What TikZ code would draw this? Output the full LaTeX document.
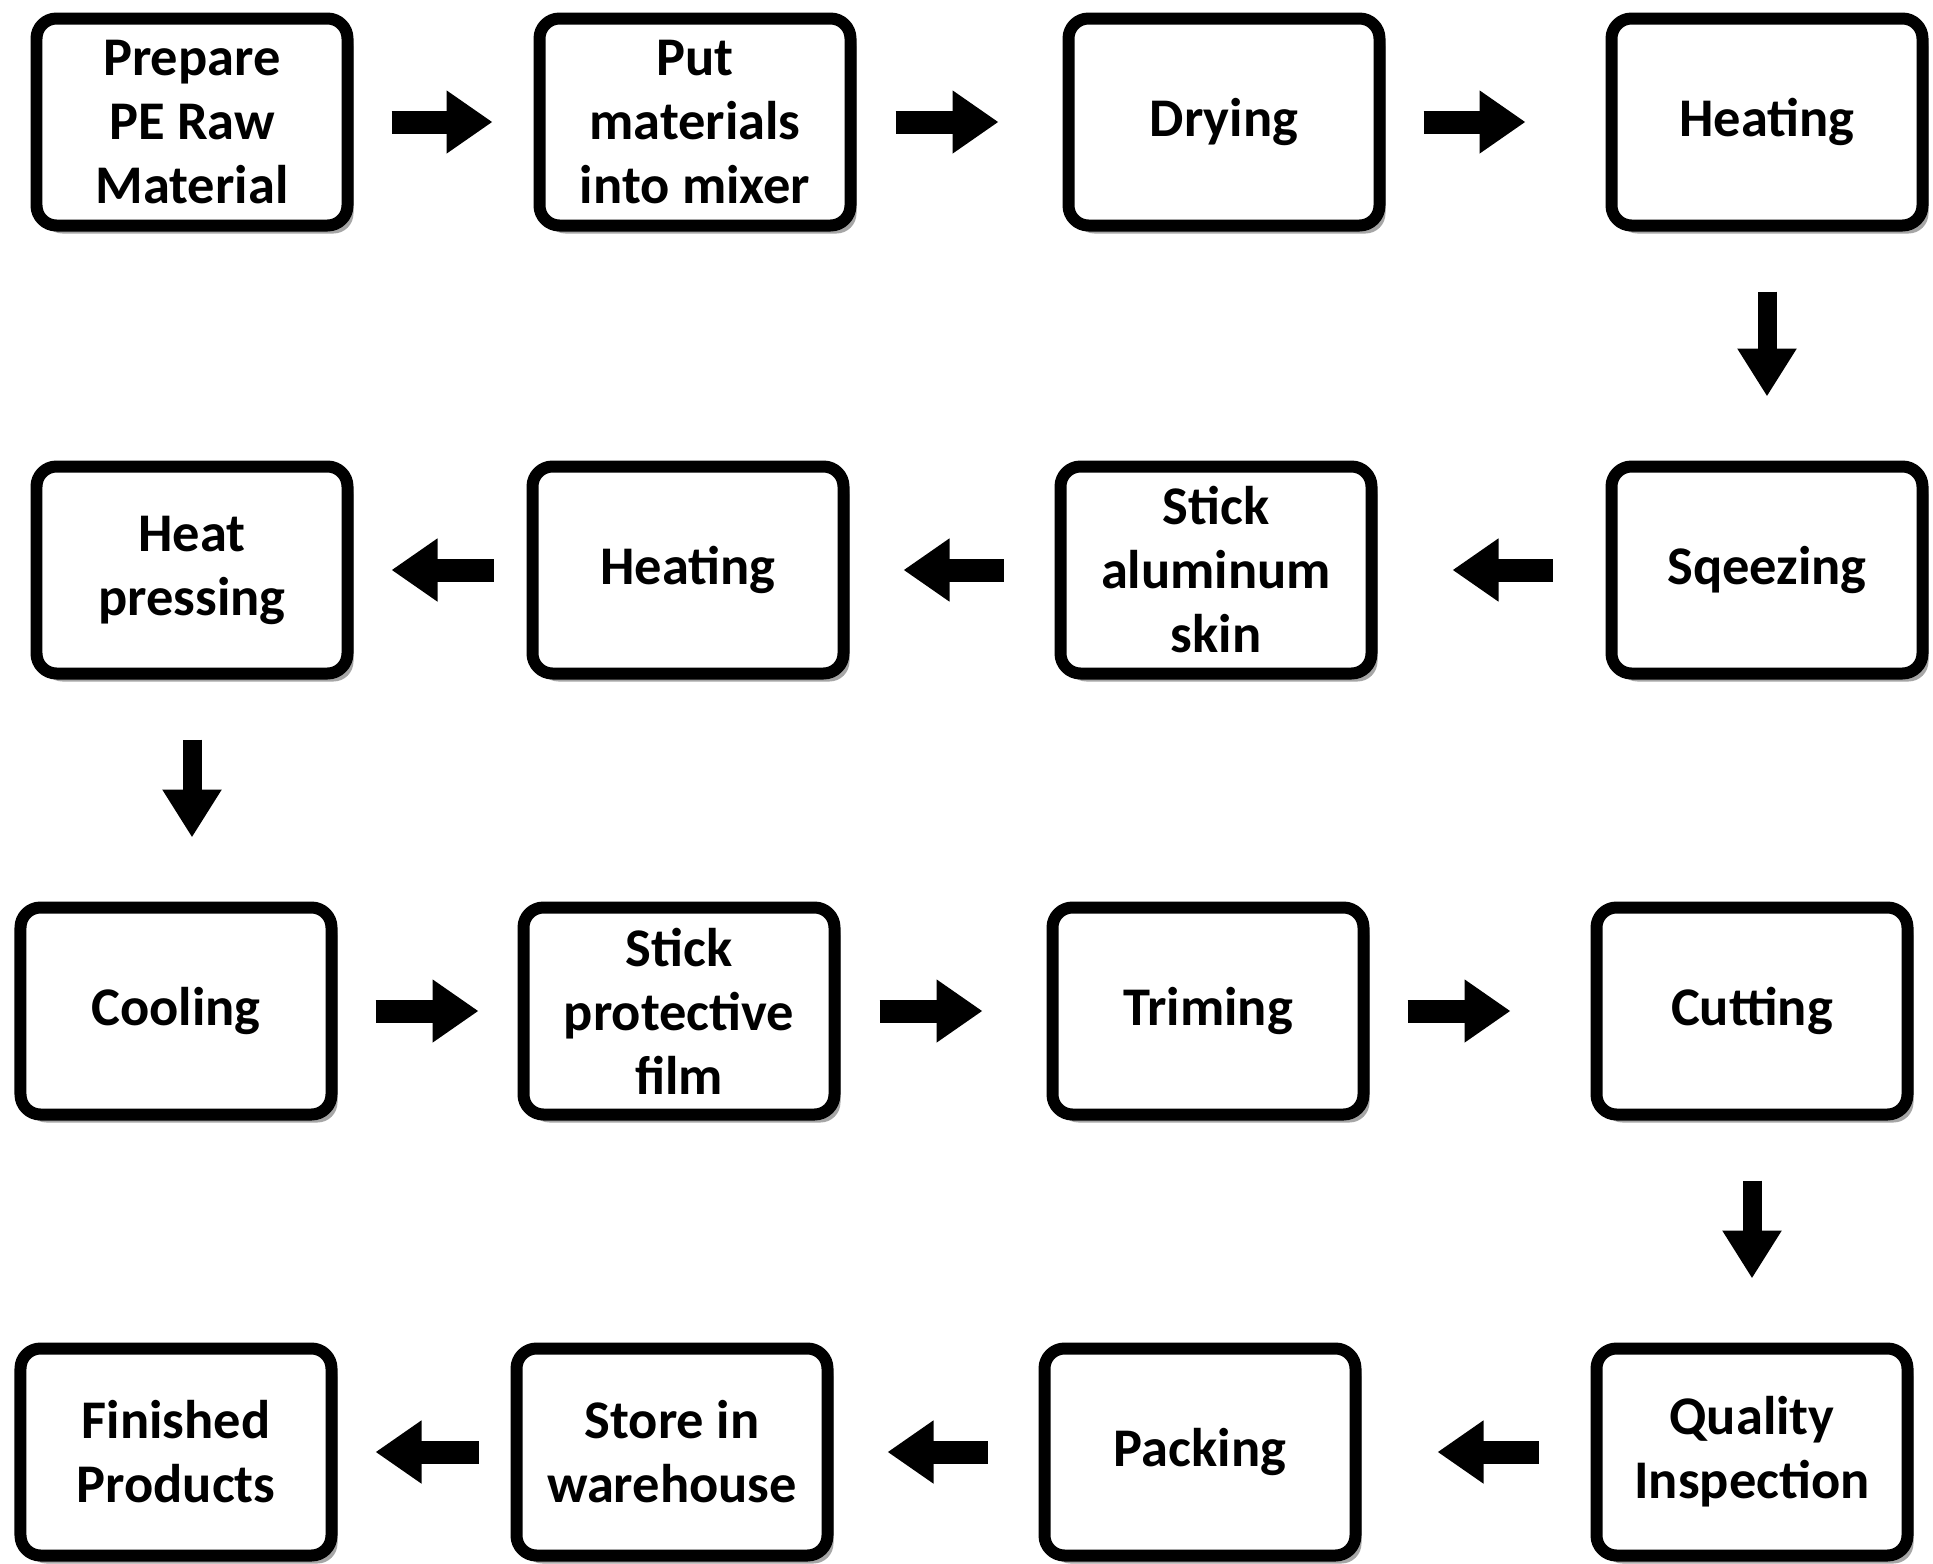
\documentclass[tikz,border=0pt]{standalone}
\usepackage{fontspec}
\setmainfont{Carlito}
\usetikzlibrary{arrows.meta,shadows}
\tikzset{
	stepbox/.style={draw, line width=0.12cm, rounded corners=0.2cm, fill=white,
		minimum width=3.11cm, minimum height=2.07cm, align=center,
		font=\bfseries\fontsize{15.5}{18.2}\selectfont,
		drop shadow={shadow xshift=0.06cm, shadow yshift=-0.08cm, opacity=0.35, fill=black}},
	flow/.style={line width=0.23cm, -{Triangle[length=0.46cm,width=0.6cm]}},
	flowdown/.style={line width=0.19cm, -{Triangle[length=0.48cm,width=0.56cm]},
		shorten <=0.6cm, shorten >=0.64cm}
}
\begin{document}
\begin{tikzpicture}[line join=round]
	\useasboundingbox (0,0) rectangle (19.33,-15.64);
	%%%%%%%%%%%%%%%%%%%%%%%%%%%%%%%%%
	\node[stepbox] (prep)  at (1.92,-1.22)  {Prepare\\PE Raw\\Material};
	\node[stepbox] (mix)   at (6.95,-1.22)  {Put\\materials\\into mixer};
	\node[stepbox] (dry)   at (12.24,-1.22) {Drying};
	\node[stepbox] (heatA) at (17.67,-1.22) {Heating};
	%%%%%%%%%%%%%%%%%%%%%%%%%%%%%%%%%
	\node[stepbox] (sqz)   at (17.67,-5.70) {Sqeezing};
	\node[stepbox] (stick) at (12.16,-5.70) {Stick\\aluminum\\skin};
	\node[stepbox] (heatB) at (6.88,-5.70)  {Heating};
	\node[stepbox] (press) at (1.92,-5.70)  {Heat\\pressing};
	%%%%%%%%%%%%%%%%%%%%%%%%%%%%%%%%%
	\node[stepbox] (cool)  at (1.76,-10.11)  {Cooling};
	\node[stepbox] (film)  at (6.79,-10.11)  {Stick\\protective\\film};
	\node[stepbox] (trim)  at (12.08,-10.11) {Triming};
	\node[stepbox] (cut)   at (17.52,-10.11) {Cutting};
	%%%%%%%%%%%%%%%%%%%%%%%%%%%%%%%%%
	\node[stepbox] (qc)    at (17.52,-14.52) {Quality\\Inspection};
	\node[stepbox] (pack)  at (12.00,-14.52) {Packing};
	\node[stepbox] (store) at (6.72,-14.52)  {Store in\\warehouse};
	\node[stepbox] (fin)   at (1.76,-14.52)  {Finished\\Products};
	%%%%%%%%%%%%%%%%%%%%%%%%%%%%%%%%%
	\draw[flow, shorten <=0.38cm, shorten >=0.41cm] (prep) -- (mix);
	\draw[flow, shorten <=0.39cm, shorten >=0.64cm] (mix) -- (dry);
	\draw[flow, shorten <=0.38cm, shorten >=0.80cm] (dry) -- (heatA);
	\draw[flowdown] (heatA) -- (sqz);
	\draw[flow, shorten <=0.53cm, shorten >=0.75cm] (sqz) -- (stick);
	\draw[flow, shorten <=0.51cm, shorten >=0.54cm] (stick) -- (heatB);
	\draw[flow, shorten <=0.33cm, shorten >=0.38cm] (heatB) -- (press);
	\draw[flowdown] (press.south) -- (press.south |- cool.north);
	\draw[flow, shorten <=0.38cm, shorten >=0.39cm] (cool) -- (film);
	\draw[flow, shorten <=0.39cm, shorten >=0.64cm] (film) -- (trim);
	\draw[flow, shorten <=0.38cm, shorten >=0.80cm] (trim) -- (cut);
	\draw[flowdown] (cut) -- (qc);
	\draw[flow, shorten <=0.52cm, shorten >=0.76cm] (qc) -- (pack);
	\draw[flow, shorten <=0.51cm, shorten >=0.54cm] (pack) -- (store);
	\draw[flow, shorten <=0.32cm, shorten >=0.38cm] (store) -- (fin);
	%%%%%%%%%%%%%%%%%%%%%%%%%%%%%%%%%
\end{tikzpicture}
\end{document}
